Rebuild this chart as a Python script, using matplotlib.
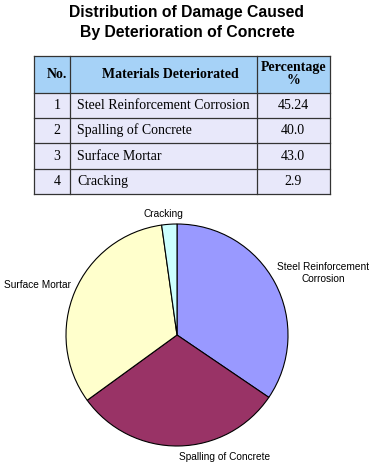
import matplotlib
matplotlib.use("Agg")
import matplotlib.pyplot as plt
from matplotlib.patches import Rectangle

title_lines = ["Distribution of Damage Caused", "By Deterioration of Concrete"]
col_headers = ["No.", "Materials Deteriorated", "Percentage\n%"]
row_numbers = ["1", "2", "3", "4"]
materials = ["Steel Reinforcement Corrosion", "Spalling of Concrete", "Surface Mortar", "Cracking"]
percent_labels = ["45.24", "40.0", "43.0", "2.9"]
percent_values = [45.24, 40.0, 43.0, 2.9]
pie_labels = ["Steel Reinforcement\nCorrosion", "Spalling of Concrete", "Surface Mortar", "Cracking"]
pie_colors = ["#9999FF", "#993366", "#FFFFCC", "#CCFFFF"]

W, H = 374, 465
fig = plt.figure(figsize=(W / 100, H / 100), dpi=100)
fig.patch.set_facecolor("white")

# overlay axes in pixel coordinates for title and table
ax = fig.add_axes([0, 0, 1, 1])
ax.set_xlim(0, W)
ax.set_ylim(H, 0)
ax.axis("off")

ax.text(187, 13, title_lines[0], ha="center", va="center", fontsize=11.3,
        fontweight="bold", family="Liberation Sans")
ax.text(187, 32, title_lines[1], ha="center", va="center", fontsize=11.3,
        fontweight="bold", family="Liberation Sans")

# table geometry
cols = [34, 70, 257, 330]
rows = [56, 93, 118, 143, 169, 194]
header_color = "#A6D2F7"
body_color = "#E8E8FA"
line_color = "#333333"

ax.add_patch(Rectangle((cols[0], rows[0]), cols[-1] - cols[0], rows[1] - rows[0],
                       facecolor=header_color, edgecolor="none"))
ax.add_patch(Rectangle((cols[0], rows[1]), cols[-1] - cols[0], rows[-1] - rows[1],
                       facecolor=body_color, edgecolor="none"))
for y in rows:
    ax.plot([cols[0], cols[-1]], [y, y], color=line_color, lw=0.9)
for x in cols:
    ax.plot([x, x], [rows[0], rows[-1]], color=line_color, lw=0.9)

serif = "Liberation Serif"
ax.text(57, 74, col_headers[0], ha="center", va="center", fontsize=10,
        fontweight="bold", family=serif)
ax.text(170, 74, col_headers[1], ha="center", va="center", fontsize=10,
        fontweight="bold", family=serif)
ax.text(294, 74, col_headers[2], ha="center", va="center", fontsize=10,
        fontweight="bold", family=serif, linespacing=1.0)

for i in range(len(materials)):
    yc = (rows[i + 1] + rows[i + 2]) / 2
    ax.text(57, yc, row_numbers[i], ha="center", va="center", fontsize=10, family=serif)
    ax.text(77, yc, materials[i], ha="left", va="center", fontsize=10, family=serif)
    ax.text(293, yc, percent_labels[i], ha="center", va="center", fontsize=10, family=serif)

# pie
cx, cy, r = 177, 335, 111
pax = fig.add_axes([(cx - r) / W, (H - cy - r) / H, 2 * r / W, 2 * r / H])
wedges, texts = pax.pie(percent_values, labels=pie_labels, colors=pie_colors,
                        startangle=90, counterclock=False, labeldistance=1.04,
                        wedgeprops=dict(edgecolor="black", linewidth=0.8),
                        textprops=dict(fontsize=7.3, family="Liberation Sans"))
pax.set_xlim(-1, 1)
pax.set_ylim(-1, 1)
pax.set_aspect("equal")
for t in texts:
    t.set_multialignment("center")
    t.set_clip_on(False)
texts[0].set_ha("left")
x0, y0 = texts[0].get_position()
texts[0].set_position((x0 - 0.02, y0 + 0.07))
texts[3].set_ha("center")
x3, y3 = texts[3].get_position()
texts[3].set_position((x3 - 0.05, y3 + 0.05))
x2, y2 = texts[2].get_position()
texts[2].set_position((x2, y2 + 0.04))
x1, y1 = texts[1].get_position()
texts[1].set_position((x1, y1 - 0.06))

fig.savefig("out.png", dpi=100, facecolor="white")
